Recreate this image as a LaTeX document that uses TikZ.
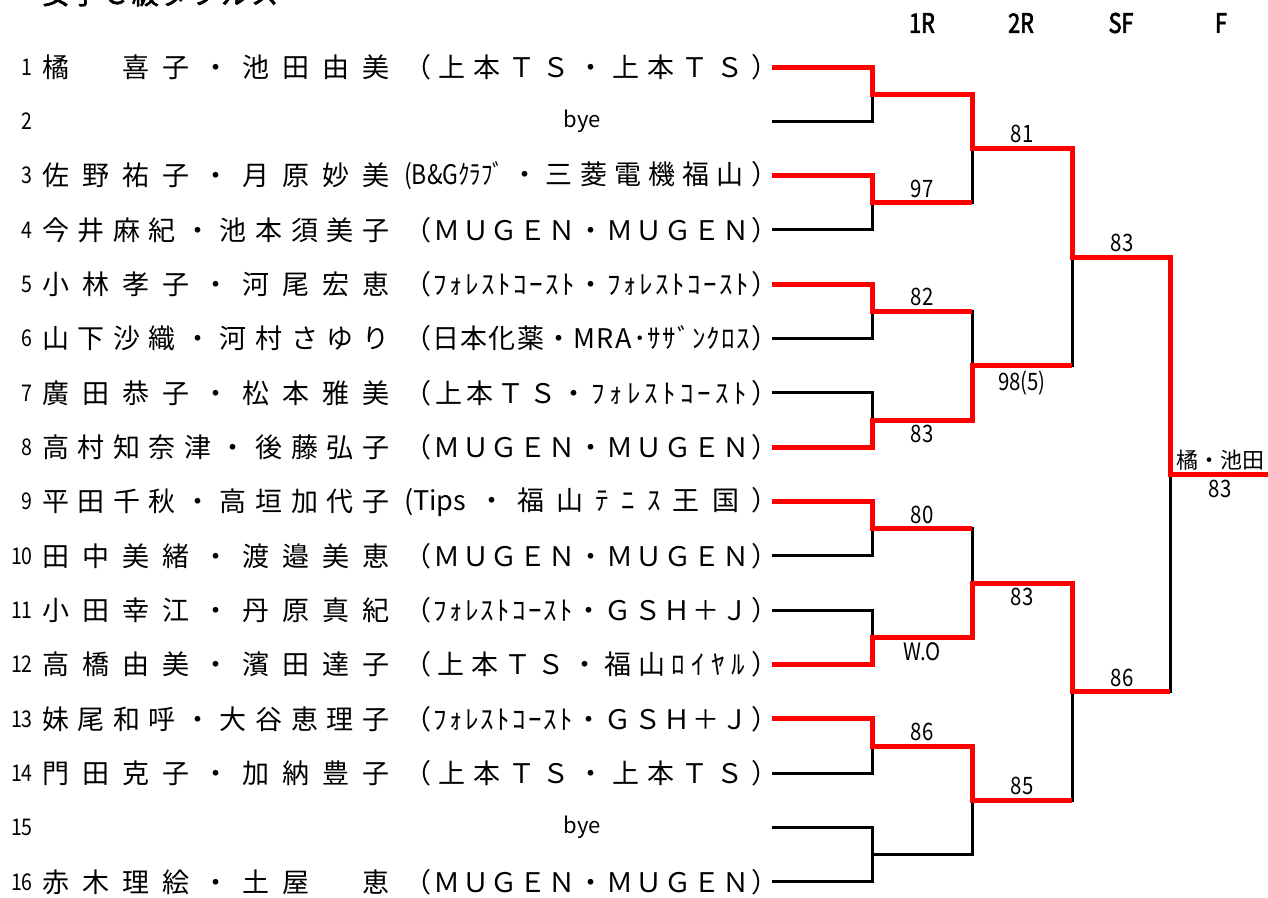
\documentclass[tikz,border=0pt]{standalone}
\usepackage{fontspec}
\setmainfont{Noto Sans CJK JP}
\newfontfamily\narrowfont[FakeStretch=0.85]{Noto Sans CJK JP}
\newfontfamily\headfont[FakeStretch=0.8,FakeBold=2.5]{Noto Sans CJK JP}
\newfontfamily\boldfont[FakeBold=2.5]{Noto Sans CJK JP}

\makeatletter
% 均等割付
\newcommand\spreadbox[2]{\hbox to #1{\expandafter\@tfor\expandafter\sp@c\expandafter:\expandafter=#2\do{\sp@c\hfill}\unskip}}
\makeatother

\begin{document}
\begin{tikzpicture}[x=1pt,y=-1pt,
    win/.style={red, line width=5pt},
    lose/.style={black, line width=3pt},
    namebox/.style={anchor=west, inner sep=0pt, font=\fontsize{27}{27}\selectfont},
    num/.style={anchor=east, inner sep=0pt, font=\narrowfont\fontsize{23}{23}\selectfont},
    byetext/.style={inner sep=0pt, font=\fontsize{22}{22}\selectfont},
    score/.style={inner sep=1pt, font=\narrowfont\fontsize{24}{24}\selectfont},
    scup/.style={anchor=south, yshift=4pt},
    scdown/.style={anchor=north, yshift=-4pt},
    roundhead/.style={inner sep=0pt, font=\headfont\fontsize{27}{27}\selectfont}]
    \useasboundingbox (0,0) rectangle (1268,897);
    \clip (0,0) rectangle (1268,897);

    % 标题
    \node[anchor=base west, inner sep=0pt, font=\boldfont\fontsize{27}{27}\selectfont] (title) at (42,4) {\spreadbox{236pt}{女子Ｃ級ダブルス}};

    % 轮次
    \foreach \x/\r in {922/1R, 1021/2R, 1121/SF, 1221/F}
        \node[roundhead] (hd\r) at (\x,23) {\r};

    % 选手
    \foreach \i in {1,...,16}
        \node[num] (num\i) at (33,{67+(\i-1)*54.33}) {\i};
    \foreach \i/\nm/\cl in {
        1/橘　喜子・池田由美/（上本ＴＳ・上本ＴＳ）,
        3/佐野祐子・月原妙美/{{\narrowfont(B\&Gｸﾗﾌﾞ}}・三菱電機福山）,
        4/今井麻紀・池本須美子/（ＭＵＧＥＮ・ＭＵＧＥＮ）,
        5/小林孝子・河尾宏恵/（ﾌｫﾚｽﾄｺｰｽﾄ・ﾌｫﾚｽﾄｺｰｽﾄ）,
        6/山下沙織・河村さゆり/（日本化薬・MRA･ｻｻﾞﾝｸﾛｽ）,
        7/廣田恭子・松本雅美/（上本ＴＳ・ﾌｫﾚｽﾄｺｰｽﾄ）,
        8/高村知奈津・後藤弘子/（ＭＵＧＥＮ・ＭＵＧＥＮ）,
        9/平田千秋・高垣加代子/{(Tips}・福山ﾃﾆｽ王国）,
        10/田中美緒・渡邉美恵/（ＭＵＧＥＮ・ＭＵＧＥＮ）,
        11/小田幸江・丹原真紀/（ﾌｫﾚｽﾄｺｰｽﾄ・ＧＳＨ＋Ｊ）,
        12/高橋由美・濱田達子/（上本ＴＳ・福山ﾛｲﾔﾙ）,
        13/妹尾和呼・大谷恵理子/（ﾌｫﾚｽﾄｺｰｽﾄ・ＧＳＨ＋Ｊ）,
        14/門田克子・加納豊子/（上本ＴＳ・上本ＴＳ）,
        16/赤木理絵・土屋　恵/（ＭＵＧＥＮ・ＭＵＧＥＮ）}
    {
        \node[namebox] (name\i) at (42,{67+(\i-1)*54.33}) {\spreadbox{347pt}{\nm}};
        \node[namebox] (club\i) at (404,{67+(\i-1)*54.33}) {\spreadbox{374pt}{\cl}};
    }
    \foreach \i in {2,15}
        \node[byetext] (bye\i) at (582,{67+(\i-1)*54.33}) {bye};

    % 对阵点
    \foreach \i in {1,...,16}
        \coordinate (t\i) at (772,{67+(\i-1)*54.33});
    \foreach \k in {1,...,8}
        \coordinate (q\k) at (872,{67+(2*\k-1.5)*54.33});
    \foreach \k in {1,...,4}
        \coordinate (s\k) at (972,{67+(4*\k-2.5)*54.33});
    \foreach \k in {1,2}
        \coordinate (f\k) at (1072,{67+(8*\k-4.5)*54.33});
    \coordinate (w) at (1170,{67+7.5*54.33});
    \coordinate (champ) at (1268,{67+7.5*54.33});

    % 黑线
    \foreach \i in {1,...,16} {
        \pgfmathtruncatemacro\k{(\i+1)/2}
        \draw[lose] (t\i) -| (q\k);
    }
    \foreach \k in {1,...,8} {
        \pgfmathtruncatemacro\j{(\k+1)/2}
        \draw[lose] (q\k) -| (s\j);
    }
    \foreach \k in {1,...,4} {
        \pgfmathtruncatemacro\j{(\k+1)/2}
        \draw[lose] (s\k) -| (f\j);
    }
    \foreach \k in {1,2}
        \draw[lose] (f\k) -| (w);

    % 胜者红线
    \draw[win] (t1) -| (q1) -| (s1) -| (f1) -| (w) -- (champ);
    \draw[win] (t3) -| (q2) -- (q2 -| s1);
    \draw[win] (t5) -| (q3) -- (q3 -| s2);
    \draw[win] (t8) -| (q4) -| (s2) -- (s2 -| f1);
    \draw[win] (t9) -| (q5) -- (q5 -| s3);
    \draw[win] (t12) -| (q6) -| (s3) -| (f2) -- (f2 -| w);
    \draw[win] (t13) -| (q7) -| (s4) -- (s4 -| f2);

    % 比分
    \foreach \pt/\sd/\txt [count=\n] in {q2/scup/97, q3/scup/82, q4/scdown/83,
        q5/scup/80, q6/scdown/W.O, q7/scup/86, s1/scup/81, s2/scdown/98(5),
        s3/scdown/83, s4/scup/85, f1/scup/83, f2/scup/86}
        \node[score,\sd] (sc\n) at ([xshift=50pt]\pt) {\txt};
    \node[scup, inner sep=1pt, yshift=-1pt, font=\fontsize{22}{22}\selectfont] (winner) at ([xshift=50pt]w) {橘・池田};
    \node[score,scdown] (final) at ([xshift=50pt]w) {83};
\end{tikzpicture}
\end{document}
